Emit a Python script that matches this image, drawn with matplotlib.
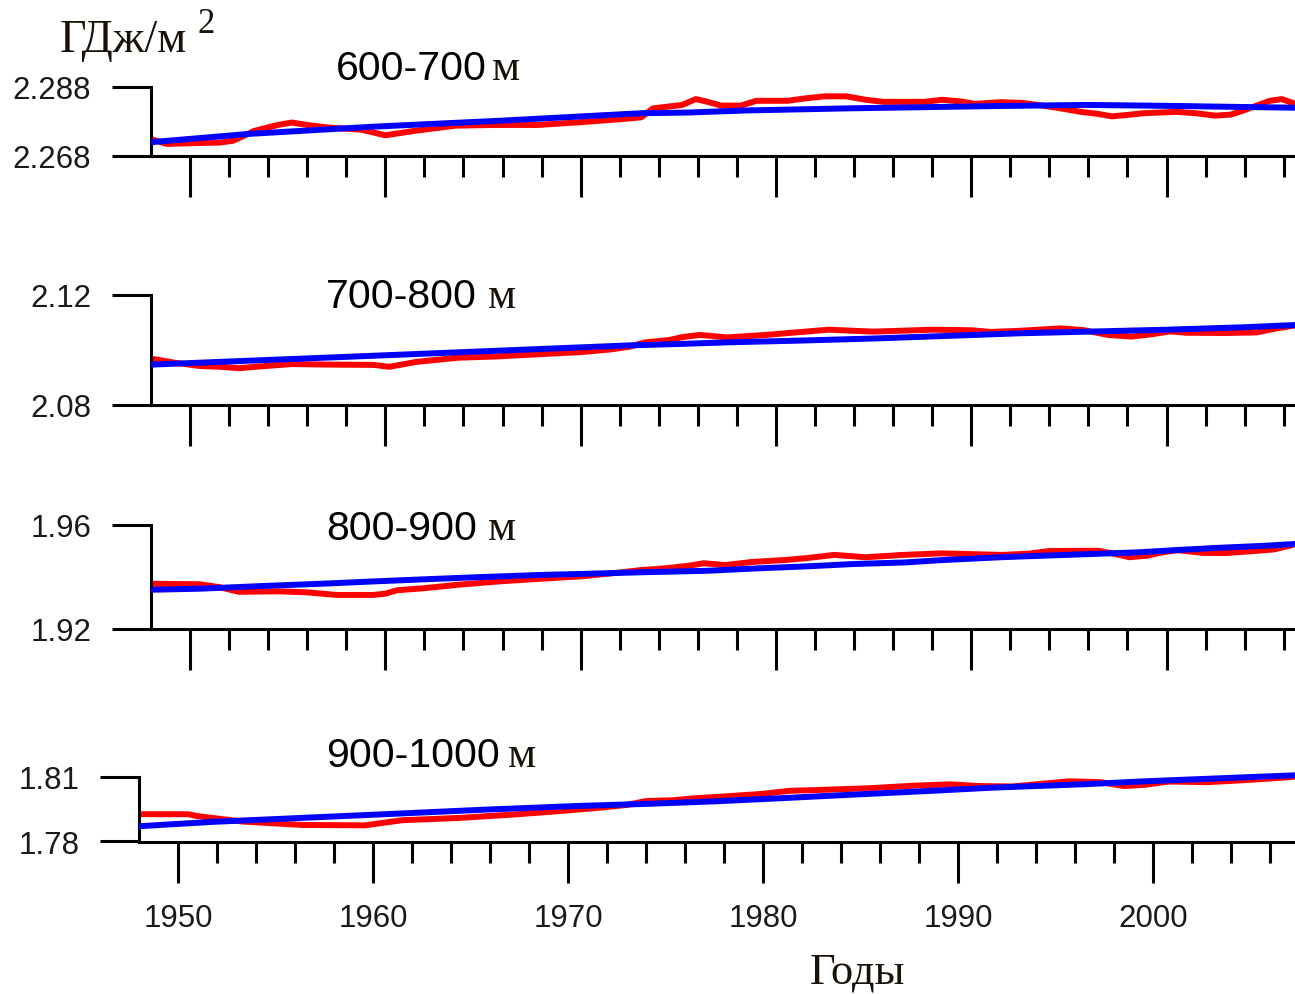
import matplotlib
matplotlib.use("Agg")
import matplotlib.pyplot as plt

# ---------------- data ----------------
panel_titles = ["600-700", "700-800", "800-900", "900-1000"]
unit_word = "м"
y_label = "ГДж/м"
x_label = "Годы"

ytick_vals = [[2.268, 2.288], [2.08, 2.12], [1.92, 1.96], [1.78, 1.81]]
ytick_labels = [["2.268", "2.288"], ["2.08", "2.12"], ["1.92", "1.96"], ["1.78", "1.81"]]
xmajor_years = [1950, 1960, 1970, 1980, 1990, 2000]
xmajor_labels = ["1950", "1960", "1970", "1980", "1990", "2000"]
xminor_years = [1952, 1954, 1956, 1958, 1962, 1964, 1966, 1968, 1972, 1974, 1976, 1978,
                1982, 1984, 1986, 1988, 1992, 1994, 1996, 1998, 2002, 2004, 2006]

# 600-700 m
red1_years = [1948.0, 1948.8, 1950.0, 1951.5, 1952.2, 1953.3, 1954.5, 1955.2, 1956.0, 1957.0,
              1958.8, 1960.0, 1961.5, 1963.6, 1965.7, 1967.8, 1970.0, 1972.1, 1973.1, 1973.7,
              1975.2, 1975.9, 1976.5, 1977.2, 1978.2, 1979.0, 1980.6, 1981.5, 1982.5, 1983.6,
              1984.6, 1985.5, 1987.6, 1988.5, 1989.5, 1990.2, 1991.5, 1992.6, 1993.8, 1994.8,
              1995.6, 1996.5, 1997.2, 1998.0, 1998.8, 2000.5, 2001.5, 2002.5, 2003.3, 2003.9,
              2004.7, 2005.3, 2005.9, 2006.6]
red1 = [2.2729, 2.2715, 2.2717, 2.2719, 2.2724, 2.2753, 2.2770, 2.2777, 2.2770, 2.2763,
        2.2756, 2.2740, 2.2753, 2.2768, 2.2770, 2.2770, 2.2778, 2.2787, 2.2792, 2.2818,
        2.2828, 2.2845, 2.2837, 2.2826, 2.2826, 2.2840, 2.2840, 2.2847, 2.2853, 2.2853,
        2.2843, 2.2837, 2.2837, 2.2843, 2.2838, 2.2831, 2.2836, 2.2834, 2.2825, 2.2816,
        2.2808, 2.2802, 2.2795, 2.2799, 2.2804, 2.2808, 2.2804, 2.2797, 2.2800, 2.2811,
        2.2828, 2.2840, 2.2845, 2.2831]
blue1_years = [1948.0, 1953.0, 1959.4, 1965.8, 1973.1, 1975.5, 1978.5, 1983.6, 1991.5,
               1996.0, 2000.5, 2004.0, 2006.6]
blue1 = [2.2720, 2.2744, 2.2765, 2.2782, 2.2804, 2.2806, 2.2812, 2.2818, 2.2825,
         2.2828, 2.2825, 2.2822, 2.2820]

# 700-800 m
red2_years = [1948.0, 1949.2, 1950.5, 1951.6, 1952.5, 1953.5, 1955.2, 1957.3, 1959.4, 1960.2,
              1961.6, 1963.7, 1965.8, 1967.9, 1970.1, 1971.5, 1972.5, 1973.3, 1974.5, 1975.2,
              1976.1, 1977.5, 1979.5, 1981.0, 1982.7, 1985.0, 1988.0, 1990.0, 1991.0, 1992.5,
              1994.6, 1995.8, 1997.0, 1998.2, 1999.2, 2000.2, 2001.0, 2003.0, 2004.6, 2005.5,
              2006.6]
red2 = [2.0967, 2.0952, 2.0940, 2.0937, 2.0932, 2.0938, 2.0947, 2.0945, 2.0944, 2.0937,
        2.0955, 2.0970, 2.0975, 2.0983, 2.0991, 2.1000, 2.1010, 2.1026, 2.1034, 2.1045,
        2.1053, 2.1044, 2.1053, 2.1062, 2.1072, 2.1065, 2.1072, 2.1070, 2.1064, 2.1068,
        2.1077, 2.1070, 2.1053, 2.1047, 2.1055, 2.1066, 2.1061, 2.1060, 2.1062, 2.1075,
        2.1088]
blue2_years = [1948.0, 1960.0, 1972.5, 1975.0, 1977.5, 1981.0, 1985.0, 1989.0, 1992.5,
               1996.0, 2000.0, 2004.0, 2006.6]
blue2 = [2.0945, 2.0979, 2.1015, 2.1020, 2.1026, 2.1032, 2.1040, 2.1050, 2.1059,
         2.1065, 2.1072, 2.1081, 2.1089]

# 800-900 m
red3_years = [1948.0, 1950.5, 1951.5, 1952.5, 1954.5, 1956.0, 1957.5, 1959.4, 1960.0, 1960.6,
              1962.0, 1963.7, 1965.8, 1967.9, 1970.1, 1972.1, 1973.0, 1974.3, 1975.6, 1976.3,
              1977.4, 1978.8, 1980.6, 1981.6, 1983.0, 1984.6, 1986.5, 1988.5, 1990.0, 1991.6,
              1993.0, 1994.0, 1996.5, 1997.3, 1998.1, 1999.0, 1999.8, 2000.6, 2001.8, 2003.0,
              2004.5, 2005.5, 2006.3, 2006.6]
red3 = [1.9374, 1.9372, 1.9361, 1.9343, 1.9345, 1.9341, 1.9331, 1.9331, 1.9336, 1.9349,
        1.9357, 1.9370, 1.9383, 1.9393, 1.9403, 1.9418, 1.9426, 1.9433, 1.9444, 1.9453,
        1.9446, 1.9458, 1.9466, 1.9473, 1.9485, 1.9476, 1.9485, 1.9491, 1.9488, 1.9485,
        1.9490, 1.9500, 1.9501, 1.9490, 1.9476, 1.9482, 1.9495, 1.9503, 1.9493, 1.9492,
        1.9500, 1.9506, 1.9520, 1.9527]
blue3_years = [1948.0, 1950.5, 1953.6, 1956.7, 1959.4, 1962.6, 1965.0, 1968.0, 1970.1,
               1973.0, 1976.5, 1979.0, 1981.6, 1984.0, 1986.6, 1988.5, 1991.5, 1993.7,
               1996.0, 1998.6, 2000.6, 2002.6, 2005.0, 2006.6]
blue3 = [1.9351, 1.9355, 1.9365, 1.9374, 1.9383, 1.9393, 1.9400, 1.9408, 1.9412,
         1.9418, 1.9424, 1.9433, 1.9441, 1.9450, 1.9456, 1.9465, 1.9476, 1.9482,
         1.9488, 1.9495, 1.9504, 1.9512, 1.9520, 1.9527]

# 900-1000 m
red4_years = [1948.0, 1950.5, 1951.0, 1952.0, 1953.3, 1955.2, 1956.4, 1959.6, 1960.2, 1961.5,
              1964.5, 1967.3, 1969.5, 1971.6, 1973.0, 1974.0, 1975.4, 1976.5, 1978.4, 1980.0,
              1981.4, 1983.0, 1985.5, 1987.6, 1989.6, 1991.0, 1992.8, 1994.5, 1995.7, 1997.3,
              1998.5, 1999.6, 2000.8, 2002.8, 2005.0, 2006.8, 2007.3]
red4 = [1.7927, 1.7927, 1.7918, 1.7907, 1.7893, 1.7883, 1.7877, 1.7875, 1.7883, 1.7899,
        1.7910, 1.7926, 1.7941, 1.7957, 1.7970, 1.7988, 1.7992, 1.8001, 1.8012, 1.8022,
        1.8036, 1.8040, 1.8048, 1.8059, 1.8066, 1.8058, 1.8056, 1.8070, 1.8080, 1.8076,
        1.8058, 1.8064, 1.8079, 1.8076, 1.8087, 1.8098, 1.8102]
blue4_years = [1948.0, 1951.7, 1956.4, 1961.1, 1965.7, 1970.4, 1974.0, 1977.6, 1980.6,
               1984.4, 1988.7, 1991.9, 1996.4, 1999.6, 2003.7, 2007.3]
blue4 = [1.7871, 1.7891, 1.7910, 1.7929, 1.7948, 1.7965, 1.7975, 1.7987, 1.8000,
         1.8017, 1.8036, 1.8051, 1.8066, 1.8080, 1.8095, 1.8108]

red_years = [red1_years, red2_years, red3_years, red4_years]
red_vals = [red1, red2, red3, red4]
blue_years = [blue1_years, blue2_years, blue3_years, blue4_years]
blue_vals = [blue1, blue2, blue3, blue4]

# ---------------- layout ----------------
W, H = 1295, 995
fig = plt.figure(figsize=(W / 100, H / 100), dpi=100)
fig.patch.set_facecolor("white")

SANS = ["Liberation Sans", "DejaVu Sans"]
SERIF = ["Liberation Serif", "DejaVu Serif"]

# (left px, top px, bottom px, x at right edge)
geom = [(151, 88, 157, 2006.58),
        (151, 295.5, 405.5, 2006.58),
        (151, 526, 630, 2006.58),
        (139, 778, 842.5, 2007.28)]
title_pos = [(336, 80, 492), (326, 308, 488), (326, 540, 488), (326, 767, 508)]

LW_AX = 2.2
for i in range(4):
    x0, yt, yb, xr = geom[i]
    ax = fig.add_axes([x0 / W, 1 - yb / H, (W - x0) / W, (yb - yt) / H])
    ax.set_facecolor("none")
    ax.plot(red_years[i], red_vals[i], color="#ff0000", lw=4.3, solid_capstyle="butt",
            zorder=2, clip_on=False)
    ax.plot(blue_years[i], blue_vals[i], color="#0000ff", lw=4.3, solid_capstyle="butt",
            zorder=3, clip_on=False)
    ax.set_xlim(1948, xr)
    ax.set_ylim(ytick_vals[i][0], ytick_vals[i][1])
    for s in ["top", "right"]:
        ax.spines[s].set_visible(False)
    for s in ["left", "bottom"]:
        ax.spines[s].set_linewidth(LW_AX)
        ax.spines[s].set_color("black")
    ax.set_yticks(ytick_vals[i])
    ax.set_yticklabels(ytick_labels[i], fontfamily=SANS, fontsize=22.5, color="#1a1a1a")
    ax.tick_params(axis="y", direction="out", length=28, width=LW_AX, pad=15)
    ax.set_xticks(xmajor_years)
    ax.set_xticks(xminor_years, minor=True)
    if i == 3:
        ax.set_xticklabels(xmajor_labels, fontfamily=SANS, fontsize=22.5, color="#1a1a1a")
    else:
        ax.set_xticklabels([])
    ax.tick_params(axis="x", which="major", direction="out", length=29.5, width=LW_AX, pad=15)
    ax.tick_params(axis="x", which="minor", direction="out", length=15, width=LW_AX)

    tx, tb, mx = title_pos[i]
    fig.text(tx / W, 1 - tb / H, panel_titles[i], fontfamily=SANS, fontsize=29.5,
             ha="left", va="baseline", color="black")
    fig.text(mx / W, 1 - tb / H, unit_word, fontfamily=SERIF, fontsize=32,
             ha="left", va="baseline", color="#1a1208")

# unit label
fig.text(60 / W, 1 - 52 / H, y_label, fontfamily=SERIF, fontsize=33,
         ha="left", va="baseline", color="#1a1208")
fig.text(198 / W, 1 - 33 / H, "2", fontfamily=SERIF, fontsize=25,
         ha="left", va="baseline", color="#1a1208")
# x label
fig.text(810 / W, 1 - 984 / H, x_label, fontfamily=SERIF, fontsize=32,
         ha="left", va="baseline", color="#1a1208")

fig.savefig("out.png", dpi=100, facecolor="white")
